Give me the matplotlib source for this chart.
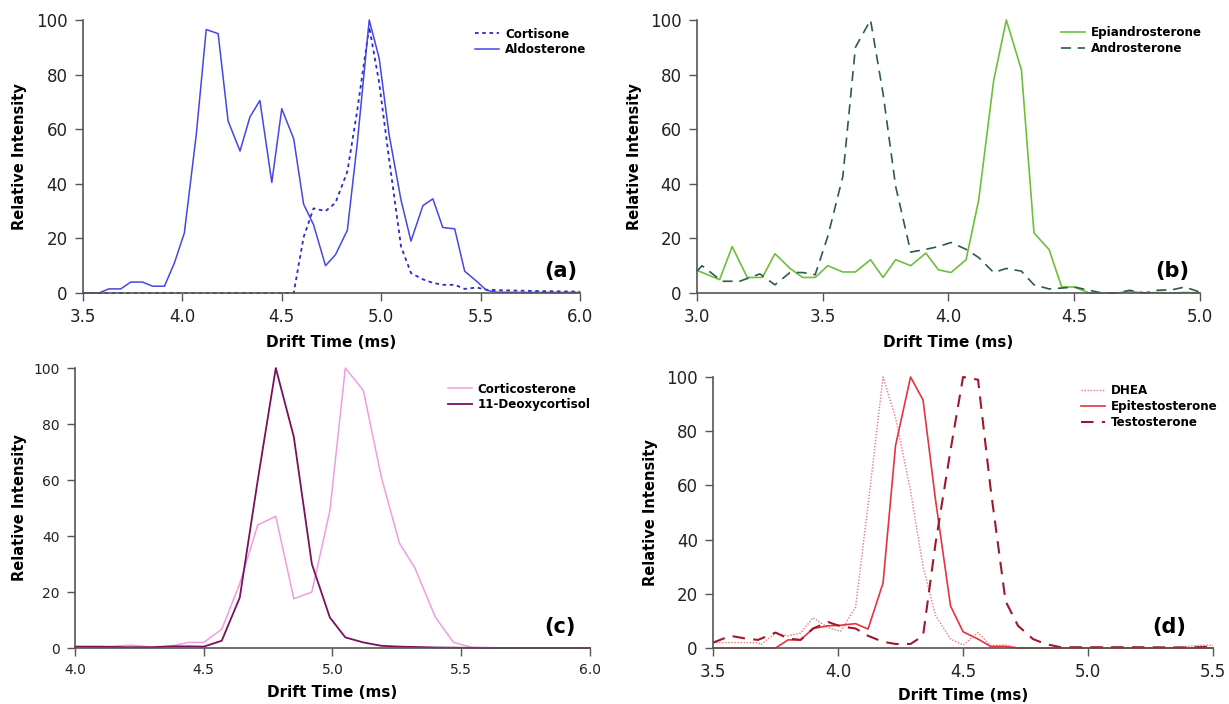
import matplotlib
matplotlib.use("Agg")
import matplotlib.pyplot as plt
import numpy as np

plt.rcParams['font.family'] = ['DejaVu Sans']

# (a) Cortisone / Aldosterone
aldo_t = [3.50, 3.58, 3.63, 3.69, 3.74, 3.80, 3.85, 3.91, 3.96, 4.01, 4.07, 4.12, 4.18, 4.23, 4.29, 4.34,
          4.39, 4.45, 4.50, 4.56, 4.61, 4.66, 4.72, 4.77, 4.83, 4.88, 4.94, 4.99, 5.04, 5.10, 5.15, 5.21,
          5.26, 5.31, 5.37, 5.42, 5.48, 5.53, 5.58, 5.70, 5.85, 6.00]
aldo_i = [0, 0, 1.5, 1.5, 4, 4, 2.5, 2.5, 11, 22, 58, 96.5, 95, 63, 52, 64.5,
          70.5, 40.5, 67.5, 56.5, 32.5, 25, 10, 14, 23, 55, 100, 86, 58, 34, 19, 32,
          34.5, 24, 23.5, 8, 4.3, 1, 0.3, 0.2, 0.2, 0.2]
cort_t = [3.50, 4.56, 4.61, 4.66, 4.72, 4.77, 4.83, 4.88, 4.94, 4.99, 5.04, 5.10, 5.15, 5.21, 5.26,
          5.31, 5.37, 5.42, 5.48, 5.53, 5.60, 5.80, 6.00]
cort_i = [0, 0, 20.5, 31, 30, 33, 44.5, 67, 97.5, 77, 49, 17, 7.3, 5, 3.7,
          3, 3, 1.5, 2, 1.2, 1, 0.7, 0.5]

# (b) Epiandrosterone / Androsterone
epi_t = [3.00, 3.09, 3.14, 3.20, 3.26, 3.31, 3.37, 3.42, 3.47, 3.52, 3.58, 3.63, 3.69, 3.74, 3.79, 3.85,
         3.91, 3.96, 4.01, 4.07, 4.12, 4.18, 4.23, 4.29, 4.34, 4.40, 4.45, 4.50, 4.56, 4.61, 4.67, 4.72,
         4.78, 4.83, 4.89, 4.94, 5.00]
epi_i = [8.3, 4.9, 17, 5.7, 5.7, 14.4, 9, 5.7, 5.7, 10, 7.7, 7.7, 12.2, 5.7, 12.2, 10,
         14.6, 8.5, 7.5, 12.2, 34, 78, 100, 81.7, 22, 15.9, 2.2, 2.2, 0, 0, 0, 0.6,
         0, 0.2, 0, 0.2, 0]
andro_t = [3.00, 3.02, 3.10, 3.17, 3.25, 3.31, 3.37, 3.42, 3.47, 3.52, 3.58, 3.63, 3.69, 3.74, 3.79, 3.85,
           3.91, 3.96, 4.01, 4.07, 4.12, 4.18, 4.23, 4.29, 4.34, 4.40, 4.45, 4.50, 4.56, 4.61, 4.67, 4.72,
           4.78, 4.83, 4.89, 4.94, 5.00]
andro_i = [8, 10, 4.3, 4.3, 7, 3, 7.5, 7.5, 6.7, 20.7, 42.7, 90, 100, 73, 39, 15,
           16, 17, 18.5, 16, 13, 7.5, 9, 8, 3, 1.5, 1.8, 2.2, 1, 0, 0, 1,
           0, 1, 1.2, 2.2, 0.3]

# (c) Corticosterone / 11-Deoxycortisol
cortico_t = [4.00, 4.10, 4.17, 4.22, 4.30, 4.37, 4.44, 4.50, 4.57, 4.64, 4.71, 4.78, 4.85, 4.92, 4.99,
             5.05, 5.12, 5.19, 5.26, 5.32, 5.40, 5.47, 5.54, 5.70, 6.00]
cortico_i = [0.5, 0.2, 0.8, 1, 0.3, 0.6, 2, 2, 6.7, 23, 44, 47, 17.6, 20, 49,
             100, 92, 61, 37.5, 28.6, 11, 2, 0.3, 0, 0]
deoxy_t = [4.00, 4.10, 4.20, 4.30, 4.37, 4.44, 4.50, 4.57, 4.64, 4.71, 4.78, 4.85, 4.92, 4.99, 5.05,
           5.12, 5.19, 5.26, 5.40, 5.60, 6.00]
deoxy_i = [0.5, 0.5, 0.3, 0.3, 0.6, 0.6, 0.5, 2.6, 18, 60, 100, 75.4, 30, 10.9, 3.8,
           2, 0.8, 0.5, 0.2, 0, 0]

# (d) DHEA / Epitestosterone / Testosterone
dhea_t = [3.50, 3.68, 3.69, 3.75, 3.80, 3.85, 3.90, 3.96, 4.01, 4.07, 4.12, 4.18, 4.23, 4.29, 4.34,
          4.39, 4.45, 4.50, 4.56, 4.61, 4.67, 4.72, 5.30, 5.45, 5.50]
dhea_i = [2, 2, 1.2, 5.5, 4.5, 5.5, 11.2, 7.5, 6.2, 15, 52.7, 100, 85, 58, 30,
          12, 3.3, 1.1, 5.7, 0.9, 1.1, 0, 0, 1, 1]
epit_t = [3.50, 3.75, 3.80, 3.85, 3.90, 3.96, 4.01, 4.07, 4.12, 4.18, 4.23, 4.29, 4.34, 4.39, 4.45,
          4.50, 4.56, 4.61, 4.67, 4.72, 5.50]
epit_i = [0, 0, 3, 3, 7.2, 8.2, 8.4, 9, 7, 24, 74.7, 100, 91.5, 54.6, 15.5,
          6, 3.3, 0.6, 0.6, 0, 0]
testo_t = [3.50, 3.57, 3.63, 3.68, 3.75, 3.80, 3.85, 3.90, 3.96, 4.01, 4.07, 4.12, 4.18, 4.23, 4.29,
           4.34, 4.39, 4.45, 4.50, 4.56, 4.61, 4.67, 4.72, 4.78, 4.83, 4.89, 5.00, 5.20, 5.40, 5.50]
testo_i = [2, 4.5, 3.5, 3, 5.7, 3.5, 3, 7.2, 9.6, 8, 7.2, 4.5, 2.3, 1.5, 1.5,
           4.5, 38.7, 73, 100, 99, 59, 17.3, 8.2, 3.3, 1.5, 0.3, 0.3, 0.3, 0.2, 0.5]

yticks = [0, 20, 40, 60, 80, 100]


def style_axes(ax, xlim, xticks, tick_size, xlab_y, ylab_x, label, label_xy, leg_xy):
    ax.set_xlim(xlim)
    ax.set_ylim(0, 100)
    ax.set_xticks(xticks)
    ax.set_xticklabels(['%.1f' % v for v in xticks])
    ax.set_yticks(yticks)
    for s in ['top', 'right']:
        ax.spines[s].set_visible(False)
    for s in ['left', 'bottom']:
        ax.spines[s].set_color('#555555')
        ax.spines[s].set_linewidth(1.2)
    ax.tick_params(direction='out', length=6, width=1, color='#555555',
                   labelsize=tick_size, labelcolor='#222222', pad=5)
    ax.set_xlabel('Drift Time (ms)', fontsize=11, fontweight='bold')
    ax.set_ylabel('Relative Intensity', fontsize=10.5, fontweight='bold')
    ax.xaxis.set_label_coords(0.5, xlab_y)
    ax.yaxis.set_label_coords(ylab_x, 0.5)
    ax.text(label_xy[0], label_xy[1], label, transform=ax.transAxes, ha='right', va='center',
            fontsize=15, fontweight='bold')
    leg = ax.legend(loc='upper left', bbox_to_anchor=leg_xy, frameon=False, fontsize=8.6,
                    handlelength=2.0, handletextpad=0.5, labelspacing=0.22, borderaxespad=0)
    for t in leg.get_texts():
        t.set_fontweight('bold')


fig = plt.figure(figsize=(12.29, 7.04), dpi=100)

ax_a = fig.add_axes([0.0675, 0.5838, 0.4044, 0.3878])
ax_a.plot(cort_t, cort_i, color='#2a2acc', lw=1.3, ls=(0, (2, 2)), label='Cortisone', clip_on=False)
ax_a.plot(aldo_t, aldo_i, color='#4646e6', lw=1.1, label='Aldosterone', clip_on=False)
style_axes(ax_a, (3.5, 6.0), np.arange(3.5, 6.01, 0.5), 12, -0.154, -0.113, '(a)',
           (0.995, 0.08), (0.78, 0.99))

ax_b = fig.add_axes([0.5671, 0.5838, 0.4093, 0.3878])
ax_b.plot(epi_t, epi_i, color='#6cc03a', lw=1.2, label='Epiandrosterone', clip_on=False)
ax_b.plot(andro_t, andro_i, color='#2e5a50', lw=1.2, ls=(0, (6, 4)), label='Androsterone', clip_on=False)
style_axes(ax_b, (3.0, 5.0), np.arange(3.0, 5.01, 0.5), 12, -0.154, -0.109, '(b)',
           (0.978, 0.08), (0.715, 0.995))

ax_c = fig.add_axes([0.0610, 0.0795, 0.4190, 0.3977])
ax_c.plot(cortico_t, cortico_i, color='#ee9ee0', lw=1.1, label='Corticosterone', clip_on=False)
ax_c.plot(deoxy_t, deoxy_i, color='#7a0f5e', lw=1.3, label='11-Deoxycortisol', clip_on=False)
style_axes(ax_c, (4.0, 6.0), np.arange(4.0, 6.01, 0.5), 10, -0.132, -0.093, '(c)',
           (0.972, 0.075), (0.715, 0.965))

ax_d = fig.add_axes([0.5802, 0.0795, 0.4068, 0.3850])
ax_d.plot(dhea_t, dhea_i, color='#e67a80', lw=1.0, ls=(0, (1, 1.2)), label='DHEA', clip_on=False)
ax_d.plot(epit_t, epit_i, color='#e8323e', lw=1.2, label='Epitestosterone', clip_on=False)
ax_d.plot(testo_t, testo_i, color='#a0182a', lw=1.5, ls=(0, (6, 4)), label='Testosterone', clip_on=False)
style_axes(ax_d, (3.5, 5.5), np.arange(3.5, 5.51, 0.5), 12, -0.148, -0.11, '(d)',
           (0.947, 0.077), (0.727, 0.99))

fig.savefig('out.png', dpi=100)
